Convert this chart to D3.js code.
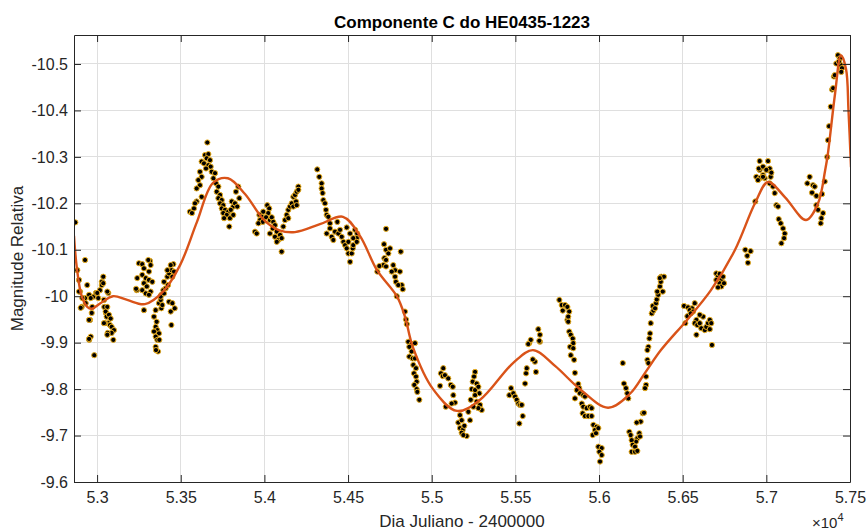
<!DOCTYPE html>
<html>
<head>
<meta charset="utf-8">
<script src="https://cdn.jsdelivr.net/npm/d3@7"></script>
<style>
html,body{margin:0;padding:0;background:#fff;}
svg{display:block;font-family:"Liberation Sans",Arial,Helvetica,sans-serif;}
</style>
</head>
<body>
<svg id="chart" width="868" height="531"></svg>
<script>
// ---- data ----
const title = "Componente C do HE0435-1223";
const xLabel = "Dia Juliano - 2400000";
const yLabel = "Magnitude Relativa";
const xTicks = [53000,53500,54000,54500,55000,55500,56000,56500,57000,57500];
const xTickLabels = ["5.3","5.35","5.4","5.45","5.5","5.55","5.6","5.65","5.7","5.75"];
const yTicks = [-10.5,-10.4,-10.3,-10.2,-10.1,-10.0,-9.9,-9.8,-9.7,-9.6];
const yTickLabels = ["-10.5","-10.4","-10.3","-10.2","-10.1","-10","-9.9","-9.8","-9.7","-9.6"];

// observed points: [JD-2400000, magnitude]
const obs = [
[52870,-10.159],[52882,-10.056],[52892,-10.035],[52928,-10.078],[52898,-10.010],[52908,-9.977],[52928,-9.996],[52941,-10.024],
[52958,-9.949],[52968,-9.964],[52953,-9.906],[52962,-9.913],[52977,-9.999],[52993,-10.007],[53007,-9.996],[53017,-10.013],
[53028,-10.031],[53037,-10.042],[53028,-10.024],[53043,-9.977],[53053,-9.964],[53067,-10.007],[53057,-9.956],[53067,-9.942],
[53047,-9.942],[53077,-9.938],[53087,-9.934],[53101,-9.927],[53087,-9.921],[53063,-9.921],[53097,-9.906],[52983,-9.873],
[52892,-10.010],[52952,-10.003],[52912,-9.996],[52932,-9.985],[52962,-9.996],[52902,-9.975],[52971,-9.977],[52952,-9.949],
[53037,-10.028],[53001,-10.007],[53061,-10.010],[53041,-9.992],[53061,-9.977],[53051,-9.967],[53071,-9.960],[53081,-9.952],
[53041,-9.942],[53061,-9.917],[52952,-9.908],
[53250,-10.071],[53270,-10.069],[53316,-10.076],[53320,-10.067],[53280,-10.060],[53310,-10.053],[53270,-10.046],[53240,-10.039],
[53291,-10.039],[53310,-10.035],[53330,-10.031],[53280,-10.028],[53297,-10.021],[53270,-10.013],[53320,-10.010],[53237,-10.013],
[53291,-10.006],[53310,-10.003],[53280,-9.970],[53306,-10.078],[53233,-10.016],
[53350,-9.970],[53340,-9.956],[53356,-9.945],[53350,-9.934],[53360,-9.927],[53340,-9.924],[53370,-9.920],[53350,-9.913],
[53360,-9.906],[53350,-9.891],[53364,-9.881],[53384,-9.974],[53370,-9.985],[53380,-9.992],[53384,-10.003],[53396,-10.013],
[53410,-10.017],[53424,-10.024],[53400,-10.031],[53420,-10.042],[53430,-10.049],[53444,-10.056],[53456,-10.069],[53440,-10.067],
[53420,-10.056],[53430,-9.988],[53450,-9.985],[53464,-9.974],[53440,-9.967],[53444,-9.938],[53380,-9.999],[53390,-9.981],
[53400,-10.006],[53450,-10.042],[53460,-10.053],[53352,-9.884],[53372,-9.906],
[53659,-10.331],[53645,-10.304],[53665,-10.306],[53655,-10.297],[53675,-10.293],[53625,-10.290],[53639,-10.286],[53665,-10.282],
[53679,-10.279],[53651,-10.275],[53685,-10.268],[53615,-10.268],[53705,-10.265],[53625,-10.257],[53695,-10.254],[53605,-10.250],
[53711,-10.243],[53615,-10.239],[53595,-10.232],[53725,-10.236],[53715,-10.225],[53625,-10.214],[53735,-10.218],[53725,-10.211],
[53595,-10.204],[53745,-10.207],[53735,-10.200],[53585,-10.200],[53754,-10.196],[53745,-10.189],[53555,-10.182],[53579,-10.189],
[53765,-10.186],[53784,-10.182],[53754,-10.179],[53775,-10.175],[53759,-10.168],[53805,-10.204],[53814,-10.193],[53824,-10.200],
[53799,-10.186],[53794,-10.168],[53790,-10.150],[53844,-10.236],[53830,-10.225],[53850,-10.211],[53838,-10.193],[53814,-10.175],
[53567,-10.179],
[53944,-10.139],[53954,-10.135],[53970,-10.175],[53984,-10.171],[53974,-10.164],[53990,-10.160],[53993,-10.182],[54017,-10.196],
[54029,-10.189],[54023,-10.179],[54010,-10.170],[54033,-10.164],[54044,-10.170],[54053,-10.160],[54063,-10.153],[54050,-10.146],
[54033,-10.135],[54074,-10.139],[54063,-10.128],[54093,-10.132],[54083,-10.121],[54074,-10.117],[54103,-10.096],[54113,-10.150],
[54123,-10.164],[54133,-10.175],[54143,-10.186],[54153,-10.193],[54163,-10.200],[54173,-10.214],[54183,-10.218],[54193,-10.225],
[54203,-10.236],[54173,-10.193],[54189,-10.204],[54143,-10.168],[53964,-10.157],[54103,-10.125],[54203,-10.229],[54193,-10.196],
[54316,-10.273],[54328,-10.257],[54342,-10.243],[54342,-10.232],[54348,-10.222],[54352,-10.207],[54362,-10.200],[54368,-10.186],
[54372,-10.175],[54382,-10.171],[54392,-10.157],[54372,-10.135],[54392,-10.146],[54402,-10.128],[54412,-10.121],[54422,-10.139],
[54436,-10.160],[54442,-10.135],[54452,-10.143],[54462,-10.128],[54472,-10.117],[54482,-10.110],[54492,-10.103],[54502,-10.092],
[54512,-10.074],[54522,-10.092],[54528,-10.103],[54531,-10.110],[54492,-10.148],[54512,-10.135],[54542,-10.143],[54555,-10.135],
[54552,-10.125],[54531,-10.125],[54552,-10.117],[54502,-10.117],
[54727,-10.145],[54715,-10.112],[54727,-10.100],[54741,-10.092],[54751,-10.103],[54815,-10.096],[54717,-10.082],[54727,-10.078],
[54711,-10.067],[54687,-10.065],[54675,-10.053],[54727,-10.064],[54770,-10.067],[54781,-10.056],[54761,-10.053],[54781,-10.042],
[54810,-10.053],[54786,-10.031],[54821,-10.024],[54800,-10.024],[54827,-10.015],[54791,-10.000],[54840,-9.967],[54846,-9.950],
[54851,-9.940],[54860,-9.902],[54880,-9.897],[54900,-9.899],[54866,-9.891],[54880,-9.881],[54866,-9.870],[54886,-9.866],
[54900,-9.866],[54890,-9.852],[54894,-9.834],[54906,-9.827],[54910,-9.816],[54896,-9.809],[54910,-9.800],[54914,-9.794],
[54926,-9.777],[54906,-9.845],
[55069,-9.845],[55055,-9.834],[55066,-9.828],[55079,-9.830],[55099,-9.823],[55050,-9.807],[55114,-9.809],[55126,-9.805],
[55129,-9.787],[55139,-9.771],[55119,-9.769],[55084,-9.762],[55169,-9.744],[55159,-9.728],[55179,-9.733],[55169,-9.716],
[55185,-9.712],[55195,-9.721],[55209,-9.699],[55179,-9.706],[55189,-9.701],[55259,-9.837],[55253,-9.827],[55245,-9.816],
[55269,-9.812],[55239,-9.800],[55259,-9.798],[55279,-9.805],[55285,-9.791],[55259,-9.787],[55233,-9.777],[55269,-9.773],
[55289,-9.766],[55299,-9.755],[55279,-9.759],[55219,-9.751],[55229,-9.733],[55249,-9.762],
[55474,-9.802],[55464,-9.787],[55488,-9.791],[55498,-9.784],[55508,-9.777],[55518,-9.769],[55528,-9.766],[55538,-9.766],
[55544,-9.742],[55524,-9.726],[55558,-9.812],[55564,-9.834],[55568,-9.845],[55583,-9.899],[55592,-9.906],[55617,-9.859],
[55623,-9.837],[55604,-9.864],[55647,-9.902],[55577,-9.897],[55637,-9.929],[55647,-9.917],[55643,-9.904],
[55763,-9.992],[55777,-9.981],[55797,-9.981],[55811,-9.977],[55783,-9.969],[55822,-9.967],[55811,-9.949],[55822,-9.924],
[55831,-9.917],[55843,-9.909],[55846,-9.899],[55827,-9.891],[55816,-9.956],[55816,-9.945],[55846,-9.888],[55831,-9.873],
[55851,-9.863],[55856,-9.835],[55876,-9.811],[55882,-9.802],[55867,-9.798],[55886,-9.791],[55856,-9.780],[55906,-9.787],
[55916,-9.784],[55897,-9.769],[55906,-9.762],[55926,-9.759],[55946,-9.762],[55956,-9.759],[55902,-9.748],[55916,-9.742],
[55936,-9.742],[55956,-9.742],[55966,-9.723],[55986,-9.719],[55976,-9.712],[55962,-9.701],[55982,-9.705],[55996,-9.716],
[55996,-9.676],[56016,-9.673],[56002,-9.665],[56016,-9.658],[56006,-9.644],
[56142,-9.856],[56149,-9.812],[56161,-9.802],[56169,-9.791],[56175,-9.780],[56261,-9.748],[56269,-9.749],[56249,-9.730],
[56225,-9.728],[56181,-9.708],[56189,-9.701],[56241,-9.705],[56229,-9.694],[56221,-9.687],[56245,-9.698],[56195,-9.690],
[56201,-9.680],[56215,-9.676],[56195,-9.665],[56215,-9.665],[56229,-9.667],[56281,-9.809],[56275,-9.802],[56281,-9.827],
[56289,-9.863],[56295,-9.856],[56295,-9.891],[56289,-9.884],[56301,-9.909],[56305,-9.920],[56309,-9.942],[56315,-9.963],
[56325,-9.969],[56321,-9.979],[56335,-9.974],[56341,-9.985],[56345,-9.993],[56354,-10.003],[56348,-10.010],[56364,-10.021],
[56381,-10.010],[56369,-10.031],[56372,-10.042],[56388,-10.042],[56363,-10.039],
[56508,-9.979],[56532,-9.976],[56556,-9.974],[56572,-9.985],[56542,-9.970],[56562,-9.967],[56528,-9.957],[56516,-9.942],
[56548,-9.963],[56582,-9.949],[56572,-9.942],[56587,-9.938],[56602,-9.942],[56611,-9.931],[56582,-9.917],[56632,-9.927],
[56641,-9.934],[56651,-9.942],[56662,-9.949],[56671,-9.942],[56662,-9.929],[56622,-9.956],[56602,-9.960],[56675,-9.895],
[56701,-10.049],[56711,-10.042],[56731,-10.035],[56741,-10.042],[56721,-10.028],[56701,-10.035],[56731,-10.021],[56711,-10.019],
[56747,-10.028],[56721,-10.048],
[56874,-10.100],[56906,-10.097],[56886,-10.087],[56890,-10.072],
[56960,-10.272],[56940,-10.257],[56960,-10.254],[56980,-10.261],[56990,-10.254],[57006,-10.272],[57026,-10.257],[57020,-10.243],
[57040,-10.236],[57050,-10.222],[57060,-10.196],[57070,-10.193],[57074,-10.166],[57086,-10.157],[57100,-10.146],[57110,-10.135],
[57106,-10.125],[57090,-10.114],[56950,-10.250],[56934,-10.204],[56960,-10.291],[57010,-10.291],[56955,-10.275],[56980,-10.279],
[57020,-10.275],[57000,-10.272],[57030,-10.266],[56980,-10.257],
[57259,-10.257],[57245,-10.243],[57279,-10.239],[57289,-10.236],[57273,-10.223],[57299,-10.216],[57333,-10.220],[57299,-10.196],
[57309,-10.186],[57339,-10.179],[57329,-10.168],[57325,-10.157],[57349,-10.247],
[57364,-10.300],[57369,-10.336],[57375,-10.366],[57385,-10.408],[57393,-10.445],[57399,-10.448],[57404,-10.473],[57409,-10.476],
[57418,-10.501],[57428,-10.519],[57439,-10.512],[57444,-10.498],[57452,-10.491],[57448,-10.483],[57433,-10.505]
];

// fitted curve: [JD-2400000, magnitude]
const fit = [
[52862,-10.13],[52878,-10.064],[52908,-10.0],[52941,-9.977],[52968,-9.973],[53020,-9.985],[53095,-10.0],[53180,-9.992],
[53286,-9.983],[53394,-10.01],[53496,-10.067],[53597,-10.16],[53693,-10.244],[53782,-10.254],[53884,-10.22],[53998,-10.164],
[54090,-10.142],[54183,-10.138],[54332,-10.155],[54470,-10.171],[54571,-10.13],[54673,-10.056],[54793,-9.999],[54840,-9.956],
[54888,-9.89],[55008,-9.80],[55151,-9.753],[55289,-9.777],[55486,-9.856],[55605,-9.884],[55737,-9.85],[55886,-9.80],
[56054,-9.76],[56185,-9.79],[56275,-9.835],[56370,-9.884],[56526,-9.949],[56669,-10.013],[56813,-10.10],[56932,-10.20],
[57010,-10.246],[57112,-10.213],[57237,-10.164],[57309,-10.20],[57351,-10.27],[57369,-10.31],[57411,-10.437],[57446,-10.519],
[57476,-10.49],[57491,-10.40],[57506,-10.278]
];

// ---- layout ----
const L = 74, R = 850, T = 35, B = 482;
const svg = d3.select("#chart");
const x = d3.scaleLinear().domain([52862, 57500]).range([L, R]);
const y = d3.scaleLinear().domain([-9.6, -10.5624]).range([B, T]);

const axisColor = "#262626";
const gridColor = "#dfdfdf";
const font = "'Liberation Sans', Arial, Helvetica, sans-serif";

// grid
const g = svg.append("g");
g.selectAll(".gx").data(xTicks).enter().append("line")
  .attr("x1", d => x(d)).attr("x2", d => x(d)).attr("y1", T).attr("y2", B)
  .attr("stroke", gridColor).attr("stroke-width", 1).attr("shape-rendering","crispEdges");
g.selectAll(".gy").data(yTicks).enter().append("line")
  .attr("y1", d => y(d)).attr("y2", d => y(d)).attr("x1", L).attr("x2", R)
  .attr("stroke", gridColor).attr("stroke-width", 1).attr("shape-rendering","crispEdges");

// clip
svg.append("clipPath").attr("id","clip").append("rect")
  .attr("x", L).attr("y", T).attr("width", R - L).attr("height", B - T);

// points
svg.append("g").attr("clip-path","url(#clip)")
  .selectAll("circle").data(obs).enter().append("circle")
  .attr("cx", d => x(d[0])).attr("cy", d => y(d[1])).attr("r", 2.6)
  .attr("fill", "#000").attr("stroke", "#EDB120").attr("stroke-width", 1);

// fitted line
const line = d3.line().x(d => x(d[0])).y(d => y(d[1])).curve(d3.curveCatmullRom.alpha(0.5));
svg.append("path").attr("clip-path","url(#clip)").datum(fit)
  .attr("d", line).attr("fill","none").attr("stroke","#D95319").attr("stroke-width", 2.4)
  .attr("stroke-linejoin","round");

// axes (box with inward ticks)
const xAxisB = d3.axisBottom(x).tickValues(xTicks).tickSizeInner(-7).tickSizeOuter(0)
  .tickFormat((d,i) => xTickLabels[i]).tickPadding(10);
const xAxisT = d3.axisTop(x).tickValues(xTicks).tickSizeInner(-7).tickSizeOuter(0).tickFormat("");
const yAxisL = d3.axisLeft(y).tickValues(yTicks).tickSizeInner(-7).tickSizeOuter(0)
  .tickFormat((d,i) => yTickLabels[i]).tickPadding(6);
const yAxisR = d3.axisRight(y).tickValues(yTicks).tickSizeInner(-7).tickSizeOuter(0).tickFormat("");

function style(sel) {
  sel.selectAll("path").attr("stroke", axisColor).attr("stroke-width", 1);
  sel.selectAll("line").attr("stroke", axisColor).attr("stroke-width", 1);
  sel.selectAll("text").attr("fill", "#262626").attr("font-size", 16).attr("font-family", font);
}
svg.append("g").attr("transform", `translate(0,${B})`).call(xAxisB).call(style);
svg.append("g").attr("transform", `translate(0,${T})`).call(xAxisT).call(style);
svg.append("g").attr("transform", `translate(${L},0)`).call(yAxisL).call(style);
svg.append("g").attr("transform", `translate(${R},0)`).call(yAxisR).call(style);

// title & labels
svg.append("text").attr("x", (L + R) / 2).attr("y", 28).attr("text-anchor","middle")
  .attr("font-size", 17).attr("font-weight","bold").attr("font-family", font).attr("fill","#000")
  .text(title);
svg.append("text").attr("x", (L + R) / 2).attr("y", 527).attr("text-anchor","middle")
  .attr("font-size", 17).attr("font-family", font).attr("fill","#262626").text(xLabel);
svg.append("text").attr("transform", `translate(23,${(T + B) / 2}) rotate(-90)`).attr("text-anchor","middle")
  .attr("font-size", 17).attr("font-family", font).attr("fill","#262626").text(yLabel);

// exponent
const ex = svg.append("text").attr("x", 812).attr("y", 528).attr("font-family", font)
  .attr("fill","#262626").attr("font-size", 15);
ex.append("tspan").text("\u00d710");
ex.append("tspan").attr("font-size", 11).attr("dy", -7).text("4");
</script>
</body>
</html>
